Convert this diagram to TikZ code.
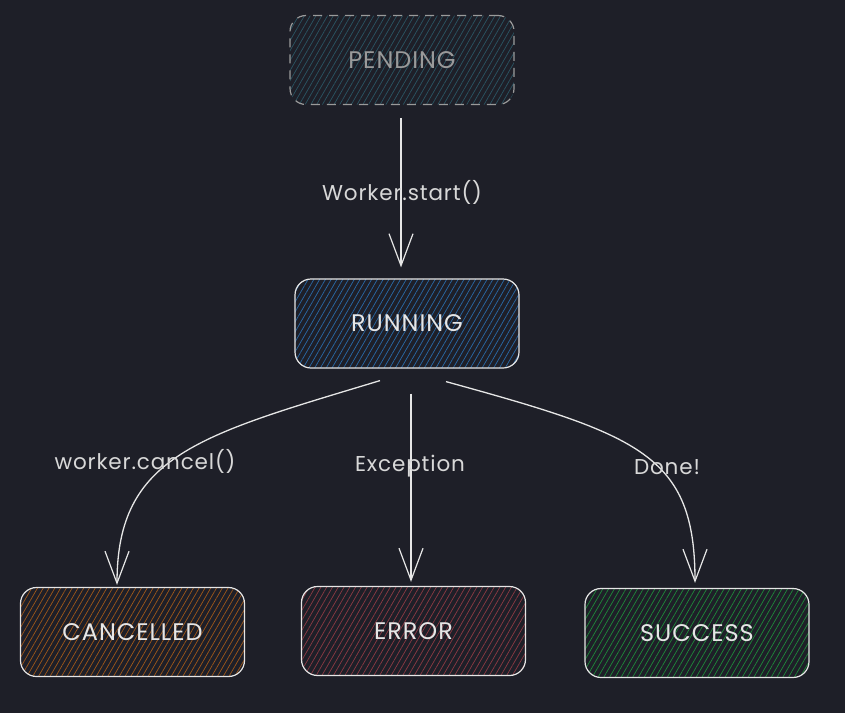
\documentclass[tikz,border=0pt]{standalone}
\usepackage{fontspec}
\setmainfont{Poppins}[LetterSpace=4]
\usetikzlibrary{arrows.meta,patterns.meta,calc}
\definecolor{bg}{HTML}{1E1F28}
\definecolor{stroke}{HTML}{E6E6E6}
\definecolor{dimstroke}{HTML}{9A9A9A}
\definecolor{hteal}{HTML}{2B5563}
\definecolor{hblue}{HTML}{2A6AA8}
\definecolor{horange}{HTML}{A0581A}
\definecolor{hred}{HTML}{8C3A44}
\definecolor{hgreen}{HTML}{1F8A3A}
\definecolor{labelc}{HTML}{D8D8D8}
\tikzset{
  statebox/.style={draw=stroke, line width=1.2pt, rounded corners=16pt,
    minimum width=224pt, minimum height=89pt, inner sep=0pt,
    text=stroke, font=\fontsize{24}{28}\selectfont},
  hatch/.style={pattern={Lines[angle=60,distance=5pt,line width=0.7pt]}, pattern color=#1},
  flow/.style={draw=stroke, line width=1.3pt, -{Straight Barb[length=32pt,width=24pt,line width=1.2pt]}},
  lbl/.style={text=labelc, font=\fontsize{21.5}{25}\selectfont, inner sep=1pt}
}
\begin{document}
\begin{tikzpicture}[x=1pt,y=-1pt]
\fill[bg] (0,0) rectangle (845,713);
\useasboundingbox (0,0) rectangle (845,713);

\node[statebox, hatch=hteal, draw=dimstroke, dashed, dash pattern=on 9pt off 7pt, text=dimstroke] (pending) at (402,60) {PENDING};
\node[statebox, hatch=hblue] (running) at (407,323.5) {RUNNING};
\node[statebox, hatch=horange] (cancelled) at (132.5,632) {CANCELLED};
\node[statebox, hatch=hred] (error) at (413.5,631) {ERROR};
\node[statebox, hatch=hgreen] (success) at (697,633) {SUCCESS};

\draw[flow] ([shift={(-1,13)}]pending.south) -- ([shift={(-6,-11)}]running.north);
\draw[flow] ([shift={(-27,12)}]running.south) .. controls (200,435) and (117,455) .. ([shift={(-15.5,-2)}]cancelled.north);
\draw[flow] ([shift={(4,25)}]running.south) -- ([shift={(-2.5,-4)}]error.north);
\draw[flow] ([shift={(39,13)}]running.south) .. controls (640,435) and (695,455) .. ([shift={(-2,-5)}]success.north);

\node[lbl] (l1) at (402,192) {Worker.start()};
\node[lbl] (l2) at (145,461) {worker.cancel()};
\node[lbl] (l3) at (410,466) {Exception};
\node[lbl] (l4) at (667,467) {Done!};
\end{tikzpicture}
\end{document}
